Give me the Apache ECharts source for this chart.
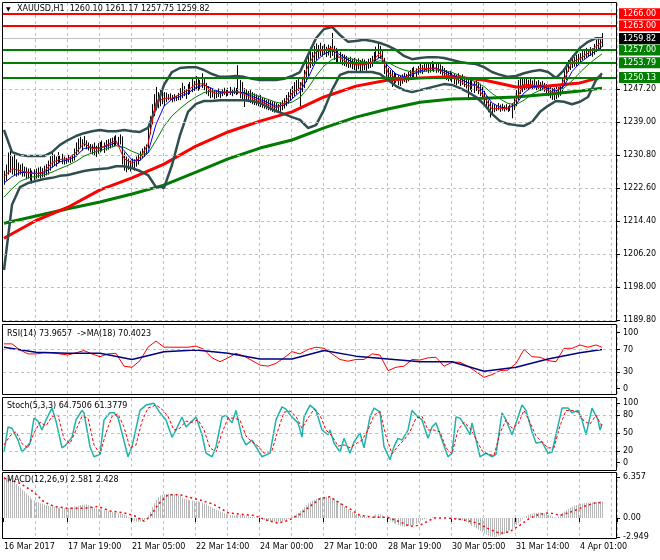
<!DOCTYPE html>
<html><head><meta charset="utf-8">
<script src="https://cdn.jsdelivr.net/npm/echarts@6/dist/echarts.min.js"></script>
<style>html,body{margin:0;padding:0;background:#fff}#c{width:660px;height:560px}</style>
</head><body><div id="c"></div>
<script>
const symbolTitle = 'XAUUSD,H1  1260.10 1261.17 1257.75 1259.82';
const rsiTitle = 'RSI(14) 73.9657  ->MA(18) 70.4023';
const stochTitle = 'Stoch(5,3,3) 64.7506 61.3779';
const macdTitle = 'MACD(12,26,9) 2.581 2.428';
const timeLabels = ['16 Mar 2017','17 Mar 19:00','21 Mar 05:00','22 Mar 14:00','24 Mar 00:00','27 Mar 10:00','28 Mar 19:00','30 Mar 05:00','31 Mar 14:00','4 Apr 01:00'];
const priceTicks = [1247.20,1239.00,1230.80,1222.60,1214.40,1206.20,1198.00,1189.80];
const redLevels = [1266.00,1263.00];
const greenLevels = [1257.00,1253.79,1250.13];
const lastPrice = 1259.82;
const rsiTicks = [0,30,70,100];
const rsiLevels = [30,70];
const stochTicks = [0,20,50,80,100];
const stochLevels = [20,50,80];
const macdTicks = [-2.949,0,6.357];

const barHigh = [
1227.0,1228.5,1231.5,1232.3,1230.5,1231.0,1229.8,1229.0,1228.5,1228.8,
1228.0,1227.8,1227.5,1227.6,1227.0,1227.3,1227.5,1227.8,1228.0,1227.6,
1228.2,1228.6,1229.5,1230.6,1231.4,1231.0,1230.5,1231.6,1230.8,1231.2,
1230.5,1230.2,1230.9,1230.4,1231.0,1232.5,1234.0,1235.0,1235.4,1234.8,
1235.6,1234.5,1234.0,1233.6,1233.5,1234.0,1233.2,1233.8,1234.1,1234.5,
1234.0,1234.6,1234.8,1235.0,1235.2,1235.5,1235.8,1235.4,1236.0,1235.5,
1231.5,1230.5,1230.0,1229.5,1230.0,1229.8,1230.5,1231.0,1231.8,1232.5,
1233.0,1233.5,1238.0,1240.5,1243.5,1246.0,1247.8,1246.5,1247.0,1246.8,
1246.5,1246.4,1246.0,1246.2,1245.8,1246.0,1245.5,1246.3,1247.5,1248.8,
1248.0,1247.2,1248.5,1249.0,1249.8,1249.3,1250.5,1250.0,1249.5,1251.2,
1250.2,1248.8,1248.0,1247.6,1247.3,1247.0,1247.0,1247.4,1246.8,1247.2,
1247.6,1247.0,1247.5,1247.8,1247.3,1247.7,1247.5,1253.2,1249.5,1249.0,
1247.5,1247.2,1246.8,1247.0,1246.5,1246.2,1246.0,1245.6,1245.8,1245.3,
1245.0,1244.6,1244.8,1244.4,1244.2,1244.0,1243.8,1243.5,1244.0,1244.5,
1245.0,1245.8,1246.5,1247.3,1248.0,1249.0,1249.5,1250.2,1249.0,1250.0,
1252.0,1254.5,1256.0,1257.6,1256.5,1258.0,1258.6,1258.2,1258.8,1258.0,
1258.5,1257.8,1258.3,1258.0,1261.2,1258.0,1257.5,1256.8,1256.5,1256.0,
1255.8,1255.5,1255.0,1255.3,1254.8,1255.0,1254.6,1254.9,1254.5,1254.8,
1254.6,1254.2,1254.8,1255.0,1255.5,1256.5,1257.8,1258.7,1258.0,1257.0,
1255.0,1253.5,1252.5,1252.0,1251.8,1251.5,1251.2,1250.8,1250.5,1250.9,
1251.3,1251.0,1251.6,1252.0,1252.5,1252.8,1252.4,1253.0,1253.6,1253.2,
1253.8,1254.0,1253.5,1253.8,1254.2,1253.9,1253.6,1253.9,1253.4,1253.0,
1252.5,1252.0,1251.6,1251.8,1251.3,1251.0,1250.8,1251.2,1250.6,1250.9,
1250.4,1250.0,1249.8,1250.0,1249.5,1249.2,1249.6,1249.0,1248.6,1247.8,
1246.8,1245.5,1244.5,1244.0,1243.5,1243.6,1243.2,1243.8,1243.4,1243.6,
1243.2,1243.5,1243.0,1243.4,1243.8,1245.0,1247.0,1249.5,1250.3,1249.8,
1250.0,1250.2,1249.6,1250.0,1249.4,1249.7,1249.2,1249.5,1249.0,1249.3,
1248.8,1248.5,1248.0,1247.8,1247.5,1247.6,1248.0,1247.8,1248.2,1250.0,
1252.0,1253.8,1254.5,1255.0,1255.6,1255.2,1255.8,1256.0,1256.2,1256.8,
1257.0,1257.5,1257.2,1257.7,1257.4,1258.5,1259.5,1260.0,1259.6,1261.17];
const barLow = [
1223.5,1224.5,1226.0,1226.5,1226.0,1225.8,1225.5,1225.8,1226.0,1225.5,
1225.5,1224.8,1225.0,1224.5,1223.8,1224.7,1225.0,1225.2,1225.0,1225.3,
1225.4,1225.8,1226.0,1227.0,1227.8,1228.2,1228.0,1228.8,1229.0,1228.6,
1228.5,1228.7,1229.0,1228.9,1229.2,1229.5,1230.5,1231.5,1232.5,1232.0,
1233.0,1232.3,1232.0,1231.5,1231.0,1230.6,1230.4,1231.2,1231.5,1231.8,
1231.4,1232.0,1232.2,1232.5,1232.8,1233.0,1233.3,1233.0,1233.5,1228.5,
1227.0,1226.6,1227.2,1226.8,1227.5,1227.0,1228.0,1228.5,1229.5,1230.0,
1230.4,1231.0,1232.5,1236.0,1238.5,1240.5,1242.0,1242.5,1243.0,1243.5,
1243.0,1244.0,1244.5,1244.6,1244.0,1244.2,1244.3,1244.5,1244.5,1245.0,
1245.5,1244.8,1245.8,1246.0,1246.5,1246.8,1247.0,1246.8,1247.2,1247.5,
1247.0,1246.0,1245.5,1245.0,1245.2,1244.8,1245.0,1245.3,1245.0,1245.5,
1245.8,1245.4,1245.6,1245.8,1245.5,1246.0,1245.8,1246.0,1245.0,1244.6,
1242.8,1244.2,1244.0,1243.8,1243.5,1243.3,1243.2,1243.0,1242.8,1242.6,
1242.4,1242.2,1242.0,1241.9,1241.6,1241.4,1241.5,1241.3,1241.6,1242.0,
1242.4,1243.0,1243.6,1244.3,1245.0,1245.5,1246.0,1246.8,1242.5,1246.5,
1247.5,1249.0,1250.5,1252.5,1253.0,1253.5,1254.5,1255.0,1255.5,1255.3,
1255.8,1255.2,1255.6,1255.0,1255.5,1254.5,1254.0,1253.8,1253.5,1253.2,
1253.0,1252.8,1252.5,1252.6,1252.2,1252.0,1251.8,1252.2,1251.5,1251.8,
1252.0,1251.8,1252.3,1252.5,1252.8,1253.5,1254.5,1255.0,1254.8,1253.5,
1251.0,1250.3,1250.0,1249.5,1247.8,1248.5,1248.8,1248.2,1248.0,1248.6,
1249.0,1248.8,1249.2,1249.5,1250.0,1250.2,1250.0,1250.8,1251.2,1251.0,
1251.5,1251.6,1251.2,1251.4,1251.8,1251.5,1251.3,1251.4,1251.0,1250.6,
1250.0,1249.5,1249.2,1249.4,1249.0,1248.5,1248.2,1248.6,1248.0,1248.3,
1247.8,1247.4,1244.5,1247.0,1246.5,1246.3,1246.8,1246.0,1245.5,1244.8,
1243.5,1242.4,1241.5,1240.2,1241.0,1241.5,1241.8,1242.0,1241.6,1241.9,
1241.7,1242.0,1241.6,1241.8,1240.0,1242.0,1243.0,1244.5,1246.0,1246.5,
1247.0,1247.3,1247.0,1247.5,1247.2,1247.4,1247.0,1247.3,1246.8,1247.0,
1246.6,1246.2,1245.5,1245.0,1244.6,1244.5,1244.8,1245.2,1245.6,1246.5,
1248.0,1249.5,1251.5,1252.0,1252.5,1252.8,1253.0,1253.2,1253.5,1254.5,
1254.8,1255.0,1255.2,1255.5,1255.3,1255.8,1256.5,1257.0,1256.8,1257.75];

const sampleBars = [0,4,8,12,16,20,24,28,32,36,40,44,48,52,56,60,64,68,72,76,80,84,88,92,96,100,104,108,112,116,120,124,128,132,136,140,144,148,152,156,160,164,168,172,176,180,184,188,192,196,200,204,208,212,216,220,224,228,232,236,240,244,248,252,256,260,264,268,272,276,280,284,288,292,296,299];
const maFastRed = [
1225.5,1227.5,1227.0,1226.5,1226.2,1226.7,1229.0,1229.8,1229.9,1231.5,
1233.8,1232.5,1232.6,1233.5,1234.5,1230.0,1228.8,1230.2,1233.5,1244.0,
1245.0,1245.0,1246.0,1247.0,1248.5,1248.6,1246.4,1246.1,1246.5,1246.7,
1246.0,1245.0,1244.3,1243.4,1242.6,1243.6,1246.3,1247.5,1253.0,1256.5,
1257.0,1257.5,1255.0,1253.8,1253.3,1253.3,1254.0,1256.3,1251.3,1250.0,
1250.0,1251.3,1252.4,1252.4,1252.5,1251.3,1250.2,1249.3,1248.0,1248.2,
1245.3,1242.3,1242.5,1242.4,1244.5,1248.5,1248.3,1248.0,1246.8,1246.4,
1249.5,1254.0,1254.8,1256.2,1257.8,1259.0];
const maBlue = [
1223.9,1225.5,1226.5,1226.6,1226.3,1226.4,1227.8,1229.2,1229.7,1230.6,
1232.5,1232.8,1232.6,1233.2,1234.0,1232.0,1229.6,1229.5,1231.5,1238.5,
1243.0,1244.8,1245.4,1246.3,1247.6,1248.3,1247.4,1246.5,1246.4,1246.6,
1246.3,1245.5,1244.7,1243.9,1243.0,1243.2,1244.8,1246.6,1250.0,1254.2,
1256.0,1256.8,1255.8,1254.5,1253.7,1253.4,1253.7,1255.2,1253.0,1251.0,
1250.3,1250.8,1251.8,1252.3,1252.4,1251.8,1250.8,1249.8,1248.8,1248.3,
1246.6,1243.8,1242.8,1242.5,1243.4,1246.3,1247.8,1248.1,1247.4,1246.8,
1248.0,1251.6,1253.8,1255.3,1256.8,1257.8];
const maGreenThin = [
1220.4,1222.5,1224.3,1225.2,1225.6,1225.9,1226.6,1227.5,1228.3,1229.3,
1230.6,1231.4,1232.0,1232.6,1233.2,1232.8,1231.8,1231.0,1231.3,1234.5,
1238.0,1240.6,1242.4,1244.0,1245.3,1246.4,1246.8,1246.6,1246.5,1246.5,
1246.4,1246.0,1245.4,1244.7,1244.0,1243.6,1244.0,1245.2,1247.5,1250.5,
1253.0,1254.6,1255.2,1255.0,1254.5,1254.0,1253.8,1254.3,1253.9,1252.8,
1252.0,1251.5,1251.5,1251.8,1252.0,1251.9,1251.4,1250.6,1249.8,1249.0,
1247.9,1246.2,1244.8,1243.7,1243.4,1244.5,1246.0,1247.0,1247.3,1247.1,
1247.5,1249.3,1251.4,1253.3,1254.9,1256.0];
const bbUpper = [
1237.1,1231.6,1230.9,1230.6,1230.6,1230.6,1231.6,1233.4,1234.6,1235.6,
1236.3,1236.8,1237.1,1236.8,1236.8,1237.1,1236.8,1236.6,1237.6,1242.6,
1248.3,1251.5,1252.5,1252.7,1252.7,1252.0,1251.0,1250.3,1250.3,1250.5,
1250.3,1249.8,1249.5,1249.5,1249.5,1249.8,1250.5,1251.5,1255.7,1259.9,
1262.2,1262.7,1260.7,1259.0,1259.2,1259.5,1259.2,1258.7,1258.0,1257.0,
1255.5,1254.7,1255.0,1255.2,1255.2,1255.0,1254.5,1254.0,1253.7,1253.5,
1252.7,1251.5,1250.8,1250.3,1250.5,1251.2,1251.7,1252.0,1251.5,1250.0,
1252.0,1255.0,1257.5,1259.0,1259.9,1259.9];
const bbLower = [
1202.3,1218.5,1222.9,1223.9,1224.4,1224.9,1225.2,1225.7,1225.9,1226.4,
1226.9,1227.2,1227.4,1227.6,1228.1,1228.1,1227.6,1226.9,1225.9,1222.9,
1222.7,1228.4,1235.8,1241.6,1243.6,1244.3,1244.3,1244.5,1244.5,1244.5,
1244.5,1244.3,1243.8,1242.8,1241.8,1241.1,1240.3,1239.6,1237.6,1238.3,
1242.1,1247.0,1250.8,1251.5,1251.5,1251.5,1251.5,1251.0,1249.5,1248.0,
1247.0,1246.5,1247.0,1247.5,1248.0,1248.5,1248.3,1247.5,1246.5,1245.3,
1243.5,1241.1,1239.3,1238.6,1238.3,1238.1,1239.1,1241.6,1243.1,1244.3,
1244.1,1243.5,1244.1,1245.3,1249.5,1251.2];
const rsiValues = [
80,80,69,62,62,64,64,62,60,64,
68,62,57,62,63,40,38,50,74,85,
74,74,74,74,76,70,55,48,55,63,
58,50,42,40,45,55,66,62,70,74,
72,62,52,49,52,52,62,60,32,38,
40,52,51,55,56,40,47,47,40,30,
20,25,32,33,45,70,57,56,50,48,
72,72,78,74,78,74];

const slowBars = [0,16,32,48,64,80,96,112,128,144,160,176,192,208,224,240,256,272,288,299];
const maSlowRed = [1210.2,1214.6,1217.9,1222.2,1225.2,1228.6,1233.1,1236.6,1239.3,1241.6,1245.3,1248.0,1249.5,1250.0,1250.3,1249.5,1247.8,1248.0,1248.8,1250.3];
const maSlowGreen = [1213.9,1215.7,1217.5,1219.2,1221.2,1223.4,1226.6,1229.9,1232.6,1234.6,1237.6,1240.3,1242.3,1244.0,1244.8,1245.0,1245.3,1246.0,1246.8,1247.5];
const rsiMa = [74,65,63,63,52,66,69,63,53,53,68,58,53,48,48,31,38,53,64,70];

const stochMain = [[0,18],[2,60],[4,58],[7,38],[9,18],[13,33],[15,75],[17,70],[19,55],[21,72],[24,92],[26,70],[29,25],[31,30],[34,43],[36,72],[39,88],[40,84],[43,27],[45,10],[48,14],[50,72],[53,84],[55,84],[57,76],[59,50],[62,10],[64,27],[68,88],[71,97],[75,100],[78,84],[81,72],[84,43],[86,55],[89,77],[91,60],[94,70],[96,77],[99,47],[101,16],[104,10],[106,27],[109,77],[111,80],[114,67],[116,88],[119,43],[121,30],[124,38],[127,21],[129,10],[133,16],[136,72],[139,94],[141,90],[144,77],[147,67],[149,43],[150,77],[153,97],[156,88],[159,55],[162,47],[163,55],[165,33],[168,18],[170,41],[173,16],[175,35],[178,50],[180,25],[183,77],[185,92],[188,85],[190,27],[193,5],[195,27],[197,41],[199,38],[202,55],[204,88],[207,77],[209,72],[212,41],[214,60],[216,67],[219,38],[222,10],[224,16],[226,77],[228,75],[231,60],[233,47],[234,67],[238,10],[241,16],[244,10],[246,14],[249,84],[251,72],[254,47],[256,67],[259,97],[261,88],[264,52],[266,33],[269,35],[272,16],[274,18],[276,47],[279,92],[282,92],[284,84],[287,88],[289,72],[291,47],[294,92],[297,72],[298,55],[299,65]];
const stochSignal = [[0,30],[3,45],[6,52],[9,32],[12,25],[15,50],[18,68],[21,62],[24,78],[27,80],[30,40],[33,32],[36,55],[39,78],[42,75],[45,30],[48,15],[51,50],[54,78],[57,82],[60,60],[63,25],[66,30],[69,70],[72,92],[76,97],[79,90],[82,78],[85,55],[88,58],[91,70],[94,68],[97,72],[100,55],[103,25],[106,18],[109,50],[112,75],[115,75],[118,72],[121,45],[124,35],[127,28],[130,16],[134,20],[137,55],[140,85],[143,87],[146,78],[149,58],[152,75],[155,90],[158,80],[161,55],[164,45],[167,28],[170,30],[173,25],[176,32],[179,38],[182,55],[185,80],[188,86],[191,45],[194,15],[197,28],[200,38],[203,52],[206,75],[209,78],[212,55],[215,55],[218,52],[221,25],[224,15],[227,55],[230,68],[233,58],[236,40],[239,20],[242,14],[245,12],[248,50],[251,72],[254,58],[257,65],[260,88],[263,68],[266,45],[269,35],[272,25],[275,25],[278,62],[281,88],[284,88],[287,85],[290,70],[293,65],[296,80],[299,61]];

const macdHist = [
6.36,6.3,6.2,6.0,5.8,5.6,5.3,5.0,4.7,4.4,
4.1,3.8,3.5,3.2,2.9,2.7,2.5,2.4,2.3,2.2,
2.1,2.0,1.9,1.8,1.75,1.7,1.65,1.6,1.6,1.55,
1.5,1.5,1.55,1.6,1.7,1.75,1.8,1.9,2.0,2.05,
2.1,2.1,2.0,1.9,1.7,1.6,1.5,1.4,1.35,1.3,
1.2,1.1,1.05,1.0,0.9,0.85,0.8,0.7,0.65,0.6,
0.5,0.4,0.1,-0.2,-0.4,-0.5,-0.55,-0.6,-0.6,-0.5,
-0.3,-0.05,0.4,1.0,1.7,2.3,2.8,3.2,3.5,3.6,
3.7,3.75,3.75,3.7,3.7,3.65,3.6,3.5,3.4,3.2,
3.0,2.9,2.8,2.75,2.7,2.65,2.6,2.55,2.5,2.4,
2.25,2.1,1.9,1.75,1.6,1.45,1.3,1.15,1.0,0.85,
0.75,0.65,0.55,0.45,0.4,0.4,0.45,0.5,0.5,0.45,
0.4,0.35,0.3,0.2,0.15,0.1,0.05,0.0,-0.1,-0.2,
-0.3,-0.4,-0.5,-0.55,-0.6,-0.65,-0.6,-0.6,-0.55,-0.5,
-0.4,-0.3,-0.15,0.0,0.2,0.4,0.6,0.8,1.1,1.4,
1.7,2.0,2.3,2.5,2.7,2.85,3.0,3.1,3.2,3.25,
3.3,3.3,3.3,3.2,3.1,2.9,2.7,2.5,2.3,2.0,
1.7,1.5,1.3,1.1,0.9,0.75,0.6,0.5,0.4,0.3,
0.2,0.1,0.05,0.0,0.2,0.4,0.55,0.6,0.55,0.4,
0.2,0.0,-0.2,-0.4,-0.6,-0.8,-0.95,-1.1,-1.2,-1.3,
-1.35,-1.3,-1.25,-1.2,-1.15,-1.1,-0.9,-0.7,-0.5,-0.35,
-0.2,-0.1,0.0,0.05,0.1,0.1,0.05,0.0,0.0,-0.05,
0.0,0.05,0.0,-0.05,-0.1,-0.15,-0.2,-0.3,-0.35,-0.4,
-0.5,-0.6,-0.8,-1.0,-1.2,-1.4,-1.6,-1.8,-2.0,-2.2,
-2.4,-2.6,-2.75,-2.85,-2.9,-2.949,-2.9,-2.8,-2.7,-2.6,
-2.5,-2.3,-2.1,-1.9,-1.7,-1.4,-1.1,-0.8,-0.5,-0.2,
0.1,0.3,0.45,0.6,0.7,0.75,0.8,0.85,0.85,0.8,
0.7,0.6,0.5,0.4,0.25,0.1,0.0,0.2,0.5,0.8,
1.0,1.2,1.4,1.6,1.75,1.9,2.0,2.1,2.2,2.25,
2.3,2.35,2.4,2.4,2.45,2.5,2.5,2.55,2.55,2.58];
const macdSignal = [[0,6.2],[8,5.4],[15,4.0],[20,2.5],[25,1.8],[32,1.5],[40,1.5],[47,1.8],[53,1.1],[60,0.8],[65,0.4],[70,-0.5],[73,0.2],[77,2.1],[82,3.6],[88,3.6],[98,2.8],[105,2.1],[112,0.8],[118,0.6],[125,0.4],[132,-0.4],[137,-0.8],[142,-0.4],[148,0.6],[153,1.8],[158,3.0],[163,3.3],[168,2.3],[173,1.4],[178,0.4],[185,0.1],[192,0.1],[198,-0.6],[203,-1.3],[208,-1.1],[215,0.0],[222,0.0],[230,-0.3],[237,-0.8],[243,-1.8],[248,-2.4],[253,-2.1],[258,-1.1],[263,0.0],[268,0.6],[273,0.8],[278,0.4],[285,1.1],[290,1.8],[295,2.3],[299,2.43]];

// ---- build options ----
const FONT = 'DejaVu Sans';
const SLOTS = 307;
const slots = Array.from({length: SLOTS}, (_, i) => String(i));
const pairs = (bars, vals) => vals.map((v, k) => [bars[k], v]);
const priceBars = barHigh.map((h, i) => [i, barLow[i], h]);
const histBars = macdHist.map((v, i) => [i, 0, v]);
const gridColor = '#C0C0C0';
const dash = [3, 3];
const txt = {fontFamily: FONT, fontSize: 8, color: '#000'};

function vRule(color) {
  return function (params, api) {
    const a = api.coord([api.value(0), api.value(1)]);
    const b = api.coord([api.value(0), api.value(2)]);
    const x = Math.floor(a[0]) + 0.5;
    return {type: 'line', silent: true,
      shape: {x1: x, y1: a[1], x2: x, y2: b[1]},
      style: {stroke: color, lineWidth: 1}};
  };
}
function xAx(g, last) {
  return {
    type: 'category', gridIndex: g, data: slots, boundaryGap: true,
    axisLine: {show: false},
    axisTick: last ? {show: true, length: 4, interval: (i) => i % 32 === 0, lineStyle: {color: '#000'}} : {show: false},
    axisLabel: last ? Object.assign({show: true, align: 'left', margin: 5,
      interval: (i) => i % 32 === 0 && i / 32 < timeLabels.length,
      formatter: (v, i) => timeLabels[Math.round(Number(v) / 32)] || ''}, txt) : {show: false},
    splitLine: {show: true, interval: (i) => i % 16 === 0 && i > 0, lineStyle: {color: gridColor, type: dash, width: 1}}
  };
}
function yAx(g, min, max, ticks, fmt) {
  return {
    type: 'value', gridIndex: g, position: 'right', min: min, max: max, scale: true,
    axisLine: {show: false}, splitLine: {show: false},
    axisTick: {show: true, length: 3, customValues: ticks, lineStyle: {color: '#000'}},
    axisLabel: Object.assign({show: true, margin: 6, customValues: ticks, formatter: fmt}, txt)
  };
}
function hLines(vals) {
  return {symbol: ['none', 'none'], silent: true, animation: false, label: {show: false},
    lineStyle: {color: gridColor, type: dash, width: 1},
    data: vals.map(v => ({yAxis: v}))};
}
function line(name, data, color, width, xi, extra) {
  return Object.assign({type: 'line', name: name, data: data, xAxisIndex: xi, yAxisIndex: xi,
    symbol: 'none', showSymbol: false, silent: true, clip: true,
    lineStyle: {color: color, width: width}}, extra || {});
}
const levelLabel = (bg) => ({show: true, position: 'end', distance: 2, color: '#fff',
  backgroundColor: bg, padding: [2, 4, 1, 4], fontFamily: FONT, fontSize: 8,
  formatter: (p) => Number(p.value).toFixed(2)});
const levelData = [].concat(
  redLevels.map(v => ({yAxis: v, lineStyle: {color: '#FF0000', width: 2, type: 'solid'}, label: levelLabel('#FF0000')})),
  greenLevels.map(v => ({yAxis: v, lineStyle: {color: '#008000', width: 2, type: 'solid'}, label: levelLabel('#008000')})),
  [{yAxis: lastPrice, lineStyle: {color: '#C0C0C0', width: 1, type: 'solid'}, label: levelLabel('#000000')}]
);
const ttl = (text, left, top) => ({text: text, left: left, top: top, padding: 0,
  textStyle: {fontFamily: FONT, fontSize: 8, fontWeight: 'normal', color: '#000'}});

const option = {
  animation: false,
  backgroundColor: '#fff',
  title: [
    {text: '▼', left: 6, top: 6, padding: 0, textStyle: {fontFamily: FONT, fontSize: 6, fontWeight: 'normal', color: '#000'}},
    ttl(symbolTitle, 17, 5), ttl(rsiTitle, 7, 330), ttl(stochTitle, 7, 402), ttl(macdTitle, 7, 476)
  ],
  grid: [
    {left: 3, top: 3, width: 614, height: 319},
    {left: 3, top: 325, width: 614, height: 69},
    {left: 3, top: 398, width: 614, height: 72},
    {left: 3, top: 473, width: 614, height: 65}
  ],
  xAxis: [xAx(0, false), xAx(1, false), xAx(2, false), xAx(3, true)],
  yAxis: [
    yAx(0, 1189.378, 1268.652, priceTicks, (v) => v.toFixed(2)),
    yAx(1, -9.86, 113.8, rsiTicks, (v) => String(v)),
    yAx(2, -12.3, 108.9, stochTicks, (v) => String(v)),
    yAx(3, -3.106, 6.99, macdTicks, (v) => (v === 0 ? '0.00' : String(v)))
  ],
  graphic: [
    {type: 'rect', silent: true, z: 100, shape: {x: 2.5, y: 2.5, width: 614, height: 319}, style: {fill: 'none', stroke: '#000', lineWidth: 1}},
    {type: 'rect', silent: true, z: 100, shape: {x: 2.5, y: 324.5, width: 614, height: 70}, style: {fill: 'none', stroke: '#000', lineWidth: 1}},
    {type: 'rect', silent: true, z: 100, shape: {x: 2.5, y: 397.5, width: 614, height: 73}, style: {fill: 'none', stroke: '#000', lineWidth: 1}},
    {type: 'rect', silent: true, z: 100, shape: {x: 2.5, y: 472.5, width: 614, height: 66}, style: {fill: 'none', stroke: '#000', lineWidth: 1}}
  ],
  series: [
    line('grid', [], gridColor, 1, 0, {markLine: hLines(priceTicks), z: 1}),
    line('MA slow green', pairs(slowBars, maSlowGreen), '#007A00', 3, 0),
    line('MA slow red', pairs(slowBars, maSlowRed), '#FF0000', 3, 0),
    line('BB upper', pairs(sampleBars, bbUpper), '#2F4F4F', 2.5, 0),
    line('BB lower', pairs(sampleBars, bbLower), '#2F4F4F', 2.5, 0),
    {type: 'custom', name: 'XAUUSD', xAxisIndex: 0, yAxisIndex: 0, data: priceBars, silent: true, z: 3,
      encode: {x: 0, y: [1, 2]}, renderItem: vRule('#000000')},
    line('MA green', pairs(sampleBars, maGreenThin), '#008000', 1, 0, {z: 4}),
    line('MA blue', pairs(sampleBars, maBlue), '#0000FF', 1, 0, {z: 4}),
    line('MA red', pairs(sampleBars, maFastRed), '#FF0000', 1, 0, {z: 5,
      markLine: {symbol: ['none', 'none'], silent: true, animation: false, data: levelData}}),
    line('RSI', pairs(sampleBars, rsiValues), '#FF0000', 1, 1, {markLine: hLines(rsiLevels)}),
    line('RSI MA', pairs(slowBars, rsiMa), '#000080', 1.5, 1),
    line('Stoch', stochMain, '#20B2AA', 1.5, 2, {markLine: hLines(stochLevels)}),
    line('Stoch signal', stochSignal, '#FF0000', 1, 2, {lineStyle: {color: '#FF0000', width: 1, type: [3, 2]}}),
    {type: 'custom', name: 'MACD', xAxisIndex: 3, yAxisIndex: 3, data: histBars, silent: true,
      encode: {x: 0, y: [1, 2]}, renderItem: vRule('#B8B8B8')},
    line('MACD signal', macdSignal, '#FF0000', 1.5, 3, {lineStyle: {color: '#FF0000', width: 1.5, type: [2, 3]}})
  ]
};
const chart = echarts.init(document.getElementById('c'), null, {renderer: 'canvas', width: 660, height: 560});
chart.setOption(option);
</script></body></html>
